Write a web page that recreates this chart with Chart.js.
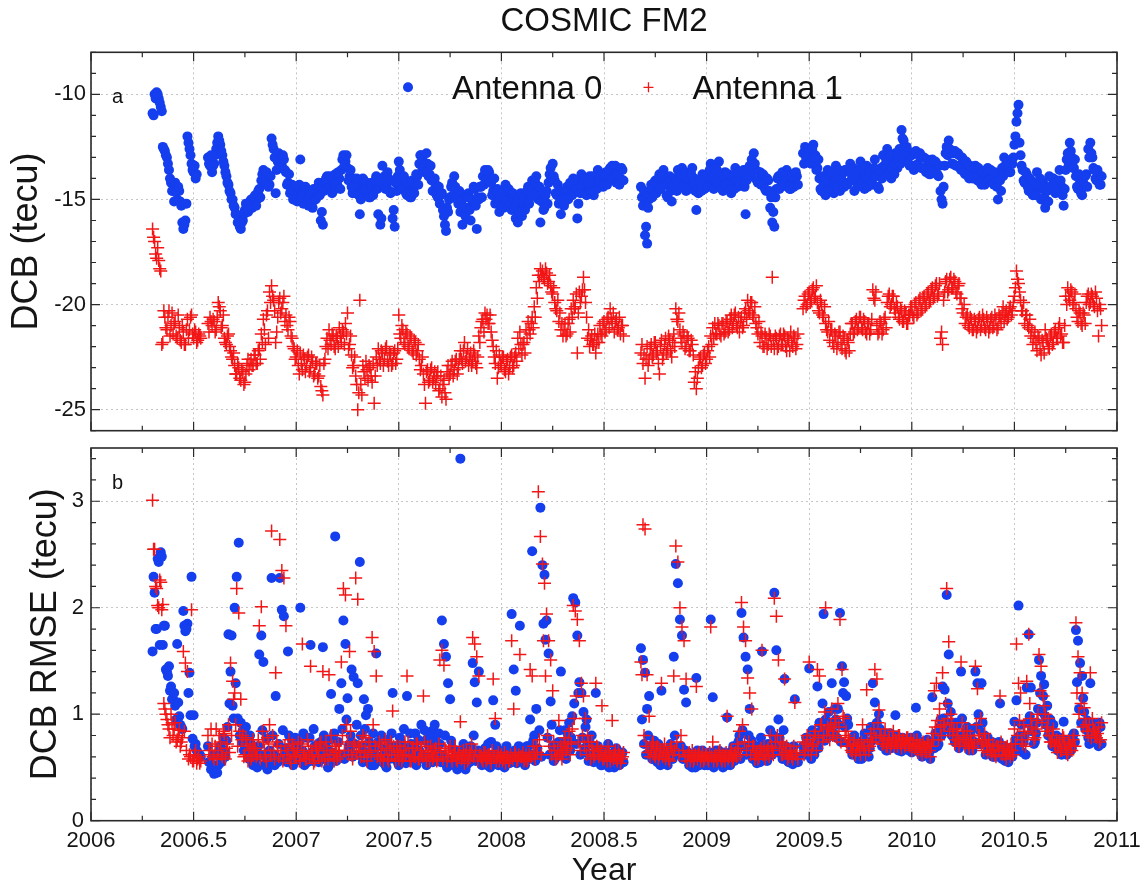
<!DOCTYPE html>
<html><head><meta charset="utf-8"><title>COSMIC FM2</title>
<script src="https://cdn.jsdelivr.net/npm/chart.js@4.4.1/dist/chart.umd.min.js"></script>
<style>
html,body{margin:0;padding:0;background:#fff;overflow:hidden;}
#wrap{position:relative;width:1146px;height:890px;background:#fff;}
canvas{position:absolute;left:0;}
#topChart{top:0;}
#botChart{top:440px;}
</style></head><body>
<div id="wrap"><canvas id="topChart" width="1146" height="440"></canvas><canvas id="botChart" width="1146" height="450"></canvas></div>
<script>
// ---- data: one value per 0.01 year starting 2006.30 (null = no data);
// the "...B" arrays hold a second reading of each band, half a step later ----
const yearStart = 2006.30;
const yearStep = 0.01;
const chartTitle = 'COSMIC FM2';
const seriesNames = ['Antenna 0', 'Antenna 1'];
const xTickLabels = ['2006','2006.5','2007','2007.5','2008','2008.5','2009','2009.5','2010','2010.5','2011'];
const dcbTickLabels = ['-25','-20','-15','-10'];
const rmseTickLabels = ['0','1','2','3'];

const dcb0 = [
-10.9,-10.0,-9.9,-10.2,-10.6,-12.5,-12.7,-13.0,-13.6,-14.2,
-14.6,-14.2,-15.0,-14.6,-15.3,-16.4,-16.0,-12.0,-12.6,-13.3,
-13.7,-14.0,null,null,null,null,null,-13.0,-13.4,-13.7,
-13.3,-12.6,-12.0,-12.4,-12.9,-13.4,-13.9,-14.3,-14.7,-15.0,
-15.4,-15.7,-16.0,-16.4,-16.0,-15.5,-15.2,-15.5,-15.0,-15.3,
-14.8,-15.0,-14.5,-14.1,-13.6,-14.0,-13.8,-14.3,-12.1,-12.6,
-14.7,-13.2,-12.9,-13.4,-13.1,-13.7,-14.2,-14.7,-14.3,-15.0,
-14.5,-14.9,-13.1,-14.4,-15.0,-14.6,-15.3,-14.8,-15.4,-14.6,
-14.9,-14.2,-16.0,-16.2,-14.3,-13.9,-14.5,-14.1,-14.6,-13.8,
-14.3,-14.0,-13.6,-12.9,-13.2,-13.5,-13.9,-14.4,-14.0,-14.7,
-14.3,-15.7,-14.5,-14.1,-14.8,-14.4,-14.9,-14.2,-14.6,-13.9,
-15.7,-16.2,-13.4,-13.9,-14.3,-14.0,-14.7,-15.9,-16.3,-14.6,
-13.2,-14.0,-14.4,-14.1,-14.8,-14.3,-14.9,-14.5,-14.2,-13.9,
-13.3,-12.9,-13.2,-13.6,-13.3,-13.8,-14.1,-14.6,-14.3,-14.9,
-15.2,-14.7,-15.8,-16.5,-15.6,-14.9,-14.2,-13.9,-14.6,-15.2,
-15.6,-16.2,-14.8,-15.4,-14.7,-16.0,-15.1,-14.5,-16.4,-15.0,
-14.4,-13.9,-13.6,-14.0,-13.7,-14.2,-14.6,-15.2,-14.5,-15.6,
-14.9,-15.4,-14.3,-15.0,-14.6,-15.5,-14.8,-15.9,-16.1,-15.2,
-15.8,-14.9,-15.3,-14.4,-14.9,-14.1,-14.6,-13.9,-15.0,-16.1,
-14.9,-15.4,-14.6,-14.2,-13.5,-13.3,-14.1,-14.8,-15.2,-15.7,
-14.7,-15.1,-14.4,-14.9,-14.3,-14.0,-14.6,-15.9,-14.2,-13.8,
-14.5,-14.1,-14.7,-13.9,-14.4,-14.8,-14.0,-13.6,-14.2,-13.8,
-14.3,-13.7,-14.1,-13.5,-13.4,-13.9,-14.2,-13.7,-14.0,-13.6,
null,null,null,null,null,null,null,null,-14.4,-15.3,
-16.7,-17.1,-15.0,-14.3,-14.8,-14.1,-14.6,-13.8,-14.4,-13.6,
-14.2,-14.9,-13.9,-15.1,-14.5,-14.0,-13.6,-14.3,-13.5,-14.1,
-14.6,-13.9,-14.4,-13.5,-14.0,-15.5,-14.7,-14.2,-13.8,-14.5,
-13.9,-14.3,-13.3,-13.8,-14.4,-13.6,-13.2,-14.0,-14.6,-13.7,
-14.3,-13.9,-14.7,-14.1,-13.5,-14.4,-13.8,-14.2,-13.6,-15.7,
-14.0,-13.4,-13.1,-12.8,-13.6,-14.2,-13.7,-14.3,-13.9,-14.6,
-14.1,-15.4,-16.1,-16.3,-14.5,-13.9,-14.4,-13.7,-14.2,-13.6,
-14.0,-14.5,-13.8,-14.2,-13.9,null,null,-12.8,-12.5,-13.1,
-12.7,-13.3,-12.4,-12.9,-13.5,-14.0,-14.6,-14.2,-14.8,-13.6,
-14.3,-13.9,-14.7,-13.4,-14.1,-14.6,-13.8,-14.4,-13.6,-14.2,
-13.3,-14.0,-14.6,-13.7,-14.3,-13.2,-13.9,-14.5,-13.4,-14.1,
-13.6,-14.3,-13.1,-13.8,-14.5,-13.5,-12.9,-13.6,-12.6,-13.3,
-14.0,-13.2,-12.8,-13.5,-12.6,-11.7,-12.2,-13.0,-12.7,-13.4,
-12.9,-13.6,-12.7,-13.3,-12.8,-13.5,-13.0,-13.7,-13.2,-13.8,
-13.1,-13.6,-13.3,-13.9,-14.6,-15.2,-13.4,-12.5,-12.2,-12.8,
-13.3,-12.7,-13.4,-12.9,-13.6,-13.1,-13.8,-13.3,-14.0,-13.5,
-13.9,-13.4,-14.1,-13.6,-14.3,-13.8,-14.2,-13.5,-14.0,-13.7,
-14.3,-13.8,-15.0,-14.1,-13.5,-13.0,-13.6,-13.2,-13.7,-13.3,
-12.4,-11.3,-10.5,-12.9,-13.6,-14.2,-13.8,-14.6,-14.1,-14.8,
-14.3,-13.7,-14.5,-15.0,-14.2,-15.4,-14.6,-13.9,-14.5,-14.0,
-14.7,-14.1,-13.6,-14.4,-15.3,-13.6,-12.8,-12.3,-13.0,-13.5,
-13.9,-14.5,-14.1,-14.8,-14.3,-13.8,-12.6,-12.3,-13.0,-13.6,
-14.1,-13.8,-14.3
];
const dcb0B = [
-11.0,-10.2,-10.0,-10.4,-10.8,-12.6,-12.9,-13.3,-14.0,-14.6,
-15.1,-14.6,-14.4,-15.1,-16.1,-16.2,-15.2,-12.3,-12.9,-13.6,
-13.4,-13.8,null,null,null,null,null,-13.3,-12.9,-13.4,
-12.9,-12.3,-12.2,-12.7,-13.2,-13.7,-14.2,-14.6,-15.0,-15.3,
-15.7,-16.1,-16.3,-16.1,-15.7,-15.2,-15.6,-15.1,-15.4,-14.9,
-15.3,-14.6,-14.9,-13.8,-14.2,-13.7,-14.4,-13.9,-12.4,-13.0,
-13.6,-12.8,-13.5,-12.9,-13.6,-14.3,-13.8,-14.5,-15.0,-14.4,
-15.1,-14.3,-14.8,-15.2,-14.4,-15.0,-14.6,-15.2,-14.5,-15.0,
-14.5,-14.8,-15.6,-14.6,-14.0,-14.5,-13.9,-14.7,-14.2,-14.4,
-13.7,-14.5,-13.1,-13.4,-12.9,-14.1,-13.6,-14.7,-14.3,-14.0,
-14.8,-15.0,-14.0,-14.6,-14.2,-14.9,-14.4,-14.8,-14.1,-14.5,
-14.2,-15.9,-14.0,-14.5,-13.7,-14.6,-14.1,-15.5,-14.2,-13.9,
-13.6,-14.5,-13.9,-14.7,-14.2,-14.9,-14.1,-14.7,-13.8,-14.3,
-12.9,-13.5,-13.7,-12.8,-13.9,-13.4,-14.6,-14.0,-14.8,-14.4,
-14.8,-15.5,-16.2,-15.4,-15.0,-14.4,-14.8,-14.4,-15.0,-14.6,
-15.1,-15.4,-15.8,-14.9,-15.5,-15.0,-14.4,-15.3,-14.9,-14.4,
-14.9,-14.3,-14.1,-13.6,-14.2,-14.8,-14.0,-14.6,-15.1,-14.8,
-15.3,-14.6,-15.1,-14.5,-15.2,-14.7,-15.4,-15.1,-15.6,-14.7,
-15.1,-15.5,-14.6,-15.2,-14.5,-14.8,-14.2,-14.7,-14.4,-15.1,
-15.5,-14.8,-15.2,-13.8,-14.0,-13.9,-14.7,-14.3,-14.6,-15.0,
-15.3,-14.6,-15.0,-14.2,-14.8,-14.6,-14.1,-15.2,-14.7,-14.3,
-14.0,-14.8,-14.2,-14.6,-13.9,-14.2,-14.5,-14.1,-13.8,-14.4,
-13.8,-14.3,-13.6,-14.0,-13.9,-13.4,-13.8,-14.3,-13.5,-14.1,
null,null,null,null,null,null,null,null,-14.9,-14.6,
-16.3,-15.4,-14.6,-14.9,-14.2,-14.7,-14.0,-14.5,-13.9,-14.3,
-14.8,-14.2,-14.6,-14.3,-14.0,-14.6,-14.2,-13.8,-14.4,-13.7,
-14.0,-14.5,-13.8,-14.2,-14.6,-14.3,-14.1,-14.6,-14.3,-13.9,
-14.4,-13.6,-14.0,-14.5,-13.5,-14.2,-13.8,-14.5,-13.9,-14.3,
-13.8,-14.5,-13.9,-14.5,-14.1,-13.7,-14.3,-13.7,-14.4,-14.1,
-13.5,-13.9,-13.6,-13.3,-14.1,-13.7,-14.3,-13.8,-14.5,-14.0,
-14.6,-14.9,-15.6,-14.9,-14.0,-14.5,-13.8,-14.3,-13.9,-14.4,
-14.5,-13.9,-14.4,-13.7,-14.3,null,null,-13.3,-13.0,-12.6,
-13.2,-12.6,-13.0,-13.6,-13.1,-14.5,-13.9,-14.7,-14.0,-14.5,
-13.7,-14.5,-14.0,-14.4,-13.6,-14.0,-14.4,-13.6,-14.3,-13.7,
-14.1,-13.5,-13.9,-14.4,-13.6,-14.2,-13.5,-13.9,-14.4,-13.7,
-14.2,-13.5,-13.9,-14.4,-13.7,-14.0,-13.4,-13.1,-13.8,-12.9,
-13.5,-13.8,-13.3,-12.9,-13.3,-12.1,-12.8,-12.5,-13.3,-12.9,
-13.4,-12.8,-13.4,-12.9,-13.5,-13.0,-13.6,-13.1,-13.8,-13.3,
-13.7,-13.2,-13.8,-13.4,-15.0,-14.4,-12.8,-12.9,-12.6,-13.3,
-12.8,-13.4,-12.8,-13.5,-13.0,-13.7,-13.2,-13.9,-13.4,-14.0,
-13.5,-14.0,-13.5,-14.2,-13.7,-14.3,-13.6,-14.1,-13.6,-14.2,
-13.7,-14.4,-14.0,-14.6,-13.9,-13.4,-13.2,-13.7,-13.1,-13.0,
-12.0,-10.9,-12.3,-13.4,-14.1,-13.7,-14.4,-14.0,-14.7,-14.2,
-14.8,-14.2,-14.0,-14.4,-14.9,-14.6,-15.1,-14.4,-14.0,-14.6,
-14.2,-14.6,-14.1,-14.8,-14.5,-13.1,-13.3,-12.7,-13.5,-13.1,
-14.4,-13.8,-14.7,-14.2,-13.9,-14.4,-13.0,-12.8,-13.5,-14.0,
-13.6,-14.3,-13.9
];

const dcb1 = [
-16.4,-17.0,-17.8,-17.9,-18.4,-21.8,-20.6,-21.2,-20.3,-21.0,
-21.4,-20.8,-21.6,-21.1,-21.8,-21.3,-21.9,-20.7,-21.2,-20.5,
-21.6,-21.3,-21.7,-21.5,null,null,null,-20.9,-20.6,-21.0,
-20.8,-21.2,-19.9,-20.3,-21.0,-21.6,-21.9,-21.4,-22.2,-22.6,
-22.9,-23.3,-23.0,-23.6,-23.2,-23.7,-22.9,-23.1,-22.6,-22.9,
-22.4,-22.8,-22.1,-21.4,-20.7,-21.9,-20.3,-19.4,-19.1,-19.8,
-21.8,-20.6,-19.7,-20.2,-19.6,-20.5,-21.2,-20.8,-21.6,-22.1,
-22.5,-22.9,-22.3,-23.1,-22.6,-22.9,-22.4,-23.0,-22.7,-23.3,
-22.8,-23.4,-23.9,-24.3,-22.6,-21.6,-21.2,-21.9,-21.5,-22.1,
-21.6,-21.1,-21.8,-21.3,-20.9,-20.4,-21.9,-22.4,-22.9,-23.4,
-25.0,-19.8,-24.3,-23.2,-22.7,-23.6,-23.0,-23.7,-24.7,-22.5,
-22.1,-22.8,-22.3,-22.6,-22.0,-22.9,-22.4,-22.8,-22.2,-22.6,
-20.5,-21.6,-21.2,-21.9,-21.4,-22.1,-21.6,-22.3,-21.8,-22.2,
-22.6,-22.9,-23.3,-24.7,-23.1,-23.6,-23.0,-23.5,-23.8,-23.2,
-24.0,-24.4,-23.6,-24.5,-22.9,-23.3,-22.7,-23.1,-22.6,-23.0,
-22.2,-22.8,-21.8,-22.5,-22.9,-22.3,-22.7,-22.4,-23.0,-21.5,
-21.1,-20.7,-20.4,-20.5,-20.9,-21.3,-22.0,-22.8,-23.5,-22.4,
-22.9,-22.5,-23.2,-22.6,-23.0,-22.4,-22.9,-22.3,-21.6,-21.3,
-22.4,-21.8,-21.2,-20.8,-21.4,-20.6,-20.1,-19.2,-18.6,-18.3,
-18.4,-18.8,-18.5,-18.9,-19.1,-19.5,-19.9,-20.3,-20.8,-21.2,
-21.5,-20.9,-21.4,-20.7,-20.2,-19.8,-20.1,-22.3,-19.4,-19.6,
-18.7,-19.9,-21.6,-22.0,-21.5,-21.9,-22.3,-21.4,-21.0,-21.5,
-20.8,-21.2,-20.6,-20.2,-20.9,-21.3,-20.7,-21.1,-21.4,-21.0,
null,null,null,null,null,null,null,null,-22.3,-22.8,
-23.5,-22.0,-22.6,-21.9,-22.4,-21.8,-22.2,-23.3,-21.7,-22.4,
-21.6,-22.1,-21.7,-22.5,-21.4,-20.2,-20.8,-21.2,-21.8,-21.5,
-22.0,-21.6,-22.2,-21.9,-23.7,-24.0,-23.0,-22.5,-22.9,-22.3,
-22.6,-22.0,-21.5,-21.1,-20.9,-21.4,-21.0,-21.5,-20.9,-21.3,
-20.8,-21.2,-20.5,-20.9,-20.4,-21.1,-21.3,-20.6,-21.0,-20.2,
-19.8,-20.4,-19.9,-20.6,-20.9,-21.4,-21.8,-21.5,-22.0,-21.6,
-21.9,-21.5,-18.7,-22.1,-21.6,-22.0,-21.4,-21.9,-21.5,-22.2,
-21.7,-21.3,-22.0,-21.6,-21.9,null,null,-20.2,-19.6,-20.0,
-19.4,-19.8,-19.2,-19.6,-19.9,-20.4,-20.0,-20.6,-20.9,-21.3,
-21.7,-21.2,-22.0,-21.5,-21.8,-21.3,-22.1,-21.6,-22.3,-21.8,
-21.4,-20.9,-21.3,-20.7,-21.1,-20.6,-21.2,-20.8,-21.4,-20.9,
-21.2,-19.3,-19.8,-21.0,-21.3,-20.9,-21.2,-20.6,-19.9,-19.5,
-20.0,-19.6,-20.4,-20.1,-20.7,-20.3,-20.8,-20.4,-20.9,-20.5,
-20.1,-20.6,-19.9,-20.4,-19.7,-20.2,-19.6,-20.0,-19.4,-19.8,
-19.2,-19.6,-19.0,-19.5,-21.6,-21.9,-19.4,-18.8,-19.3,-18.7,
-19.2,-18.9,-19.5,-19.0,-19.7,-20.4,-20.9,-20.5,-21.1,-20.7,
-21.2,-20.8,-21.1,-20.6,-21.0,-20.7,-21.2,-20.8,-21.1,-20.6,
-21.0,-20.7,-21.1,-20.6,-20.4,-20.8,-20.3,-20.6,-20.1,-20.3,
-19.6,-18.4,-19.0,-19.8,-20.3,-20.9,-20.5,-21.1,-21.5,-21.9,
-21.3,-22.2,-21.6,-22.4,-21.8,-21.2,-21.7,-22.1,-21.4,-21.8,
-21.2,-21.6,-20.9,-21.4,-21.8,-19.6,-19.2,-19.8,-19.4,-19.9,
-20.2,-20.8,-20.4,-21.0,-20.5,-19.9,-19.5,-19.9,-19.6,-20.1,
-19.7,-21.5,-20.2
];
const dcb1B = [
-16.8,-17.6,-17.3,-18.3,-21.9,-20.3,-21.1,-20.6,-21.5,-20.4,
-20.9,-21.5,-20.5,-21.7,-21.0,-21.9,-21.2,-21.6,-20.6,-21.4,
-21.2,-21.8,-21.4,-21.6,null,null,null,-21.3,-20.8,-20.7,
-21.3,-20.6,-20.1,-21.1,-20.5,-21.8,-21.5,-22.0,-22.5,-22.3,
-23.3,-22.8,-23.5,-23.1,-23.8,-23.3,-22.6,-22.8,-22.9,-22.4,
-22.8,-22.2,-22.6,-21.8,-21.2,-20.5,-21.6,-19.9,-19.6,-20.3,
-21.3,-19.9,-20.4,-19.9,-20.8,-21.0,-20.6,-21.5,-22.0,-22.6,
-22.2,-23.3,-22.8,-22.4,-23.2,-22.5,-23.2,-22.5,-23.4,-22.8,
-23.5,-22.9,-24.1,-22.8,-22.0,-22.1,-21.7,-21.4,-22.0,-21.5,
-22.0,-21.5,-21.2,-21.9,-21.4,-22.1,-21.5,-23.0,-22.5,-23.8,
-24.2,-23.8,-22.9,-23.5,-23.1,-22.9,-23.4,-22.8,-23.4,-22.9,
-22.6,-22.2,-22.9,-22.1,-22.7,-22.3,-22.9,-22.3,-22.8,-22.1,
-21.4,-21.0,-21.8,-21.3,-22.0,-21.5,-22.2,-21.7,-22.4,-21.9,
-23.1,-22.5,-23.8,-23.2,-23.7,-23.1,-23.7,-23.2,-23.4,-24.1,
-23.4,-23.8,-24.2,-23.2,-23.5,-22.9,-23.4,-22.7,-23.3,-22.6,
-22.6,-22.2,-22.7,-22.1,-22.6,-22.9,-22.2,-22.8,-22.5,-21.8,
-20.8,-21.3,-20.7,-20.9,-20.5,-21.7,-22.5,-22.2,-23.0,-22.8,
-22.5,-23.1,-22.7,-23.3,-22.5,-23.0,-22.5,-22.7,-22.1,-21.9,
-21.9,-22.3,-21.6,-21.2,-20.9,-21.1,-20.6,-19.7,-18.9,-18.6,
-18.7,-18.3,-19.0,-18.6,-19.4,-19.2,-20.2,-19.8,-20.4,-20.9,
-21.2,-21.5,-20.9,-21.3,-20.6,-20.2,-19.5,-20.4,-19.9,-19.3,
-19.3,-20.6,-21.2,-21.7,-21.9,-21.4,-21.8,-21.8,-21.4,-20.9,
-21.3,-20.7,-21.1,-20.7,-20.4,-20.8,-21.2,-20.6,-21.0,-21.5,
null,null,null,null,null,null,null,null,-21.9,-22.4,
-22.6,-22.9,-22.1,-22.5,-21.8,-22.3,-22.8,-22.0,-22.6,-21.9,
-22.3,-21.5,-22.2,-21.8,-22.0,-20.7,-20.4,-21.6,-21.3,-22.1,
-21.5,-22.2,-21.7,-22.4,-23.2,-23.5,-22.6,-23.0,-22.4,-22.8,
-22.2,-22.5,-21.9,-21.6,-21.4,-20.9,-21.4,-20.9,-21.4,-20.8,
-21.3,-20.7,-21.1,-20.5,-21.0,-20.6,-20.8,-21.1,-20.4,-20.7,
-20.3,-19.9,-20.5,-20.1,-21.1,-20.8,-21.3,-22.0,-21.4,-22.1,
-21.4,-22.0,-21.7,-21.5,-22.1,-21.5,-21.9,-21.4,-22.0,-21.6,
-22.2,-21.8,-21.5,-22.1,-21.4,null,null,-19.8,-20.1,-19.5,
-19.9,-19.3,-19.7,-19.1,-20.3,-19.8,-20.5,-20.1,-21.2,-20.8,
-21.2,-21.8,-21.4,-22.1,-21.3,-21.9,-21.5,-22.2,-21.7,-22.2,
-20.9,-21.4,-20.8,-21.2,-20.6,-21.1,-20.7,-21.3,-20.9,-21.4,
-20.7,-19.7,-19.4,-21.4,-20.8,-21.4,-20.7,-21.1,-19.6,-20.1,
-19.6,-20.2,-19.9,-20.6,-20.2,-20.8,-20.3,-20.9,-20.5,-20.1,
-20.5,-20.0,-20.5,-19.8,-20.3,-19.7,-20.1,-19.5,-19.9,-19.3,
-19.7,-19.1,-19.6,-19.0,-21.3,-19.8,-18.9,-19.4,-18.8,-19.2,
-18.8,-19.4,-19.1,-19.7,-20.2,-20.0,-20.6,-21.0,-20.6,-21.2,
-20.7,-21.3,-20.7,-21.2,-20.5,-21.1,-20.6,-21.3,-20.7,-21.1,
-20.5,-21.2,-20.5,-20.9,-20.1,-20.5,-20.7,-20.2,-20.5,-19.9,
-19.2,-18.8,-19.4,-20.3,-19.9,-20.5,-21.0,-20.7,-21.2,-21.6,
-21.8,-21.5,-22.1,-21.7,-22.3,-21.6,-22.0,-21.5,-21.9,-21.3,
-21.6,-21.1,-21.5,-21.8,-21.0,-20.0,-19.6,-19.3,-20.0,-19.5,
-20.6,-20.3,-20.9,-20.4,-20.9,-19.6,-20.0,-19.5,-20.0,-19.4,
-20.3,-20.0,-21.0
];

const rmse0 = [
1.59,2.14,1.80,2.43,2.52,1.65,1.83,1.40,1.45,1.26,
1.14,1.08,1.66,0.98,0.88,1.97,1.78,1.85,1.39,2.29,
0.99,0.72,0.64,0.62,null,null,null,0.70,0.55,0.48,
0.44,0.62,0.52,0.70,0.58,0.66,0.75,1.75,1.40,1.08,
2.00,2.29,2.61,0.92,0.85,0.78,0.66,0.58,0.72,0.52,
0.64,0.50,1.56,1.74,1.49,0.60,0.48,0.66,2.28,0.62,
1.17,0.55,2.28,1.98,1.92,0.68,1.59,0.56,0.75,0.62,
0.70,0.58,2.00,0.66,0.52,0.78,0.60,1.65,0.56,0.70,
0.62,0.55,0.74,1.63,0.58,0.68,0.52,1.19,0.64,2.67,
0.58,1.05,1.29,1.88,1.66,1.15,0.72,1.42,1.35,0.62,
1.29,2.43,0.70,1.14,0.99,1.05,0.58,0.66,0.52,1.57,
0.74,0.60,0.55,0.68,0.50,0.62,0.70,1.20,0.58,0.64,
0.52,0.74,0.60,0.68,1.17,0.56,0.72,0.62,0.82,0.57,
0.66,0.90,0.60,0.75,0.55,0.70,0.84,0.62,0.76,0.58,
0.72,1.88,1.66,1.54,1.29,1.14,0.68,0.55,0.62,0.50,
3.40,0.58,0.66,0.52,0.60,0.70,1.48,1.30,1.11,1.40,
0.62,0.55,0.68,0.52,0.60,0.74,1.13,0.90,0.58,0.64,
0.52,0.60,0.56,0.66,0.54,1.94,1.42,1.22,0.62,1.83,
0.58,0.55,0.64,0.70,0.95,2.53,0.80,1.05,0.62,2.94,
2.40,2.31,1.88,1.57,1.12,0.70,0.58,0.66,0.74,1.40,
0.62,0.85,0.70,0.92,0.78,2.09,2.05,1.74,1.30,1.20,
1.02,0.88,0.74,0.62,0.80,0.55,1.20,0.70,0.60,0.52,
0.66,0.58,0.72,0.55,0.62,0.50,0.68,0.60,0.56,0.64,
null,null,null,null,null,null,null,null,1.62,1.51,
1.39,1.05,1.17,0.70,0.58,0.66,0.55,0.62,1.22,0.58,
0.66,0.52,0.60,0.70,1.54,2.41,2.23,1.89,1.74,1.23,
1.11,0.64,0.56,0.50,0.62,1.34,0.58,0.54,0.66,0.52,
0.60,0.56,1.89,1.16,0.62,0.54,0.66,0.58,0.50,0.64,
0.97,0.56,0.62,0.70,0.58,0.66,0.80,1.95,1.72,1.54,
1.42,1.05,0.75,0.62,0.58,0.70,0.55,1.59,0.66,0.60,
0.72,0.85,0.62,2.14,1.60,0.95,0.70,0.58,1.33,0.62,
0.55,0.62,0.53,1.14,0.60,null,null,0.70,0.62,0.75,
1.43,0.58,0.68,0.80,1.26,0.92,0.85,1.94,0.95,0.78,
0.88,1.29,0.82,0.95,1.05,1.95,1.45,1.30,1.17,0.90,
0.72,0.62,0.80,0.68,0.58,0.74,0.65,0.82,0.70,0.60,
0.88,1.29,1.11,0.92,1.00,0.78,0.70,0.82,0.66,0.75,
0.68,0.80,0.99,0.72,0.78,0.65,0.74,0.68,0.76,0.70,
0.64,0.78,1.06,0.72,0.66,0.60,0.74,0.62,0.70,0.58,
1.16,0.68,0.80,0.72,0.95,1.26,1.23,2.12,1.56,1.02,
0.85,0.74,0.90,0.68,1.40,0.80,0.72,0.88,0.66,0.76,
0.70,1.40,1.29,0.85,1.29,0.72,0.62,0.78,0.66,0.74,
0.60,0.72,0.66,1.10,0.58,0.70,0.62,0.55,0.68,0.60,
0.93,1.13,2.02,0.72,0.64,0.80,1.25,1.75,1.25,0.86,
0.74,0.92,1.51,1.36,1.17,0.98,1.08,0.84,0.78,0.90,
0.72,0.66,0.78,0.62,0.93,0.70,0.64,0.76,0.68,0.82,
1.79,1.69,1.48,1.36,1.02,0.86,0.78,1.29,0.92,0.74,
0.84,0.70,0.88
];
const rmse0B = [
2.29,1.80,2.46,1.65,2.48,1.83,1.42,1.36,1.22,1.14,
1.20,0.95,1.11,0.90,0.86,1.83,1.80,1.20,0.99,0.77,
0.70,0.66,0.62,0.60,null,null,null,0.55,0.48,0.62,
0.52,0.45,0.66,0.55,0.78,0.60,0.88,1.10,1.74,0.96,
1.29,0.96,0.80,0.74,0.66,0.88,0.60,0.80,0.56,0.66,
0.58,0.70,0.62,0.85,0.52,0.77,0.62,0.56,0.80,0.52,
0.60,0.72,0.58,0.85,0.62,0.55,0.80,0.66,0.52,0.78,
0.60,0.74,0.56,0.82,0.62,0.55,0.78,0.64,0.86,0.58,
0.72,0.66,0.58,0.80,0.62,0.50,0.76,0.60,0.82,0.56,
0.74,0.62,0.86,0.58,0.95,0.66,0.80,0.60,0.72,0.90,
0.62,0.80,0.55,0.86,0.64,0.74,0.52,0.82,0.60,0.70,
0.56,0.80,0.62,0.52,0.76,0.58,0.82,0.60,0.70,0.55,
0.78,0.60,0.86,0.54,0.66,0.82,0.58,0.70,0.52,0.76,
0.58,0.62,0.85,0.52,0.80,0.60,0.55,0.90,0.64,0.82,
0.55,0.62,0.80,0.50,0.58,0.75,0.52,0.66,0.48,0.60,
0.52,0.72,0.48,0.64,0.55,0.62,0.80,0.56,0.66,0.58,
0.52,0.66,0.58,0.72,0.50,0.62,0.56,0.70,0.52,0.66,
0.60,0.50,0.70,0.55,0.62,0.58,0.66,0.54,0.70,0.56,
0.64,0.52,0.70,0.58,0.62,0.75,0.56,0.68,0.85,0.60,
1.85,1.70,0.78,0.62,0.90,0.56,0.72,0.62,0.85,0.66,
0.74,0.58,0.80,0.66,0.98,1.10,0.72,1.20,0.62,0.78,
0.68,0.95,0.56,0.72,0.62,0.70,0.58,0.64,0.52,0.60,
0.56,0.64,0.50,0.62,0.54,0.66,0.58,0.52,0.62,0.55,
null,null,null,null,null,null,null,null,0.95,0.72,
0.62,0.80,0.66,0.58,0.75,0.60,0.72,0.52,0.66,0.62,
0.56,0.62,0.72,0.58,0.80,0.66,0.62,0.70,0.58,0.66,
0.58,0.52,0.62,0.56,0.50,0.66,0.52,0.62,0.56,0.60,
0.52,0.64,0.58,0.50,0.66,0.60,0.54,0.62,0.56,0.52,
0.60,0.52,0.66,0.56,0.62,0.74,0.58,0.85,0.70,0.62,
0.80,0.66,0.58,0.70,0.54,0.64,0.78,0.60,0.70,0.56,
0.64,0.62,0.80,0.72,0.66,0.78,0.62,0.85,0.70,0.56,
0.64,0.58,0.70,0.60,0.55,null,null,0.66,0.78,0.62,
0.70,0.85,0.62,0.74,0.68,0.80,1.10,0.75,0.85,1.02,
0.80,0.92,1.05,0.78,0.90,0.74,1.20,0.88,0.96,0.72,
0.66,0.74,0.62,0.70,0.64,0.58,0.76,0.66,0.72,0.68,
0.75,0.82,0.90,0.78,0.86,0.70,0.78,0.66,0.74,0.82,
0.76,0.70,0.80,0.66,0.72,0.78,0.70,0.75,0.66,0.78,
0.72,0.66,0.80,0.70,0.62,0.74,0.66,0.76,0.64,0.72,
0.74,0.82,0.70,0.88,0.80,0.96,0.86,1.10,0.92,0.80,
0.78,0.92,0.72,0.80,0.96,0.74,0.86,0.70,0.82,0.66,
0.74,0.88,1.00,0.72,0.92,0.80,0.70,0.64,0.74,0.60,
0.68,0.60,0.74,0.64,0.70,0.56,0.66,0.60,0.62,0.70,
0.76,0.66,0.80,0.90,0.74,0.62,0.92,0.98,0.84,0.72,
0.82,1.05,1.20,1.02,1.28,0.90,0.80,0.95,0.70,0.76,
0.80,0.74,0.64,0.70,0.76,0.62,0.72,0.66,0.80,0.74,
1.30,1.05,0.92,1.15,0.86,0.94,0.72,0.84,0.78,0.90,
0.76,0.92,0.72
];

const rmse1 = [
3.01,2.55,2.18,2.00,2.24,2.03,1.05,0.95,0.86,1.00,
0.80,0.92,0.76,0.85,0.74,1.59,1.48,1.40,0.62,1.98,
0.56,0.66,0.58,0.54,null,null,null,0.80,0.62,0.72,
0.58,0.86,0.66,0.74,0.60,0.82,0.68,0.90,1.48,1.31,
1.20,2.18,1.95,1.14,0.80,0.62,0.72,0.66,0.58,0.76,
0.68,0.62,1.83,2.01,0.74,0.60,0.78,0.90,2.72,0.66,
1.39,0.70,2.64,2.35,2.28,1.83,0.62,0.58,0.72,0.66,
0.60,0.74,0.56,1.66,0.64,0.58,0.70,1.45,0.62,0.56,
0.68,0.60,0.74,1.40,0.58,0.66,1.37,0.80,0.62,0.70,
0.58,0.66,1.49,2.18,2.12,0.74,1.59,0.62,0.70,2.28,
2.08,0.66,0.74,0.60,0.78,0.64,0.70,1.72,1.59,1.36,
0.66,0.58,0.72,0.62,0.68,0.56,0.74,1.03,0.62,0.70,
0.58,0.66,0.60,0.74,1.36,0.62,0.56,0.68,0.60,0.72,
0.58,0.66,1.17,0.62,0.70,0.56,0.64,0.60,0.68,0.58,
1.51,1.60,1.46,0.66,0.60,0.70,0.56,0.64,0.58,0.62,
0.93,0.60,0.54,0.66,0.58,0.62,1.72,1.66,1.54,1.36,
0.60,0.56,0.64,0.58,0.62,0.54,1.33,0.96,0.60,0.56,
0.62,0.58,0.54,0.60,0.56,1.69,1.05,0.62,0.58,1.56,
0.60,0.56,0.62,0.58,1.42,1.36,0.64,0.70,3.09,2.67,
2.41,2.23,1.94,1.69,1.51,1.22,0.66,0.60,0.94,0.70,
0.64,0.78,0.68,0.84,0.72,2.02,1.97,1.89,1.69,1.29,
1.17,0.96,0.80,0.66,0.74,0.60,1.29,0.68,0.62,1.08,
0.58,0.64,0.70,0.56,0.94,0.62,0.58,0.66,0.54,0.60,
null,null,null,null,null,null,null,null,1.49,2.78,
2.74,1.37,0.98,0.66,0.74,0.60,0.70,0.62,1.29,0.66,
0.58,0.64,0.56,0.68,1.36,2.58,2.43,2.00,1.82,1.69,
1.33,0.62,0.56,0.66,0.58,1.26,0.62,0.56,0.64,0.58,
0.62,0.56,1.82,0.74,0.60,0.56,0.64,0.58,0.62,0.56,
0.98,0.60,0.66,0.58,0.64,0.72,0.84,2.05,1.82,1.69,
1.34,1.20,1.05,0.70,0.62,0.58,0.66,1.60,0.70,0.62,
0.68,0.80,0.66,2.09,1.92,1.51,0.74,0.62,1.33,0.70,
0.60,0.66,0.58,1.11,0.64,null,null,0.74,0.66,0.80,
1.49,0.62,0.72,0.84,1.42,1.36,0.90,0.80,2.00,0.88,
0.76,1.05,0.84,0.92,1.10,1.89,1.42,0.96,0.84,0.78,
0.70,0.64,0.76,0.66,0.72,0.62,0.90,0.70,1.23,0.66,
0.82,0.74,1.42,1.33,1.04,0.80,0.72,0.86,0.70,0.78,
0.72,0.84,0.76,0.70,0.80,0.68,0.76,0.72,0.78,0.70,
0.66,0.76,0.70,0.64,0.72,0.62,0.70,0.64,0.74,0.60,
0.82,1.22,1.29,0.76,0.88,1.39,0.90,2.18,1.68,1.00,
0.80,0.72,0.86,0.70,1.49,0.78,0.70,0.84,0.68,0.74,
0.68,1.45,1.24,0.80,0.72,0.66,0.76,0.64,0.70,0.62,
0.66,0.60,0.70,1.17,0.62,0.68,0.58,0.64,0.60,0.66,
0.86,1.66,1.29,1.20,0.72,0.84,1.31,1.75,0.96,0.82,
0.78,0.94,1.56,1.45,1.17,1.00,0.88,0.80,0.74,0.86,
0.70,0.64,0.74,0.66,0.78,0.68,0.62,0.72,0.66,0.80,
1.86,1.54,1.39,1.20,1.06,0.90,0.80,1.39,0.96,0.84,
0.78,0.88,0.76
];
const rmse1B = [
2.55,2.20,2.02,2.26,1.98,1.10,1.00,0.90,0.78,0.92,
0.86,0.74,0.80,0.70,0.78,0.84,0.66,0.58,0.60,0.56,
0.62,0.54,0.60,0.56,null,null,null,0.66,0.86,0.60,
0.70,0.58,0.80,0.62,0.84,0.58,0.72,0.64,0.80,1.14,
0.90,0.70,0.84,0.76,0.60,0.78,0.56,0.70,0.62,0.68,
0.60,0.76,0.58,0.84,0.66,0.56,0.72,0.62,0.80,0.58,
0.74,0.60,0.66,0.56,0.70,0.62,0.76,0.54,0.68,0.60,
0.66,0.56,0.72,0.62,0.58,0.76,0.60,0.66,0.54,0.70,
0.62,0.72,0.56,0.66,0.74,0.58,0.62,0.70,0.56,0.64,
0.72,0.60,0.80,0.66,0.90,0.62,0.84,0.58,0.72,0.64,
0.70,0.60,0.80,0.66,0.56,0.74,0.62,0.90,0.70,0.60,
0.74,0.62,0.56,0.76,0.58,0.66,0.62,0.70,0.56,0.64,
0.70,0.56,0.66,0.62,0.74,0.56,0.68,0.60,0.72,0.58,
0.66,0.60,0.74,0.56,0.64,0.70,0.58,0.66,0.56,0.72,
0.64,0.58,0.68,0.56,0.66,0.60,0.62,0.70,0.56,0.64,
0.58,0.66,0.62,0.56,0.64,0.72,0.60,0.66,0.56,0.62,
0.58,0.64,0.56,0.62,0.58,0.66,0.60,0.56,0.64,0.60,
0.56,0.64,0.60,0.56,0.62,0.58,0.64,0.56,0.62,0.60,
0.64,0.58,0.56,0.62,0.60,0.70,0.58,0.64,0.76,0.62,
1.69,1.36,0.80,0.70,0.62,0.74,0.58,0.66,0.62,0.58,
0.72,0.66,0.74,0.62,0.86,0.96,1.17,0.74,0.66,0.80,
0.70,0.62,0.74,0.58,0.66,0.62,0.70,0.60,0.66,0.58,
0.62,0.56,0.64,0.60,0.58,0.66,0.56,0.62,0.58,0.64,
null,null,null,null,null,null,null,null,1.37,0.80,
0.70,0.64,0.60,0.72,0.62,0.68,0.58,0.66,0.60,0.72,
0.64,0.58,0.70,0.62,0.66,0.74,0.62,0.80,0.66,0.60,
0.56,0.64,0.60,0.56,0.62,0.58,0.64,0.60,0.56,0.62,
0.58,0.64,0.60,0.56,0.62,0.58,0.66,0.56,0.60,0.64,
0.58,0.64,0.56,0.62,0.60,0.68,0.62,0.90,0.74,0.66,
0.74,0.62,0.70,0.58,0.64,0.60,0.68,0.62,0.58,0.66,
0.60,0.70,0.62,0.74,0.80,0.68,0.62,0.72,0.64,0.58,
0.66,0.60,0.70,0.62,0.58,null,null,0.62,0.72,0.66,
0.76,0.70,0.80,0.66,0.78,0.90,0.74,1.02,0.80,0.86,
0.90,0.80,0.96,0.78,0.88,0.74,0.98,0.80,0.70,0.76,
0.66,0.72,0.62,0.70,0.66,0.74,0.68,0.62,0.76,0.70,
0.74,0.86,0.78,0.92,0.80,0.72,0.78,0.70,0.76,0.68,
0.78,0.70,0.74,0.80,0.72,0.76,0.70,0.78,0.72,0.76,
0.72,0.68,0.76,0.70,0.66,0.74,0.68,0.72,0.66,0.70,
0.76,0.88,0.94,1.05,0.80,0.90,1.10,0.96,0.84,0.92,
0.86,0.76,0.80,0.74,0.92,0.84,0.76,0.72,0.80,0.70,
0.76,0.90,0.80,0.96,0.74,0.82,0.70,0.76,0.66,0.72,
0.62,0.70,0.66,0.74,0.66,0.62,0.70,0.66,0.72,0.62,
0.72,0.80,0.94,0.76,0.90,0.70,0.82,1.10,0.88,0.76,
0.86,1.00,1.22,0.92,1.08,0.84,0.96,0.74,0.80,0.72,
0.76,0.70,0.66,0.80,0.72,0.64,0.74,0.70,0.76,0.70,
1.20,1.00,1.10,0.88,0.96,0.84,0.90,0.78,0.86,0.80,
0.82,0.74,0.92
];

// ---- rendering ----
const FONT = '"Liberation Sans", Arial, Helvetica, sans-serif';
Chart.defaults.font.family = FONT;
Chart.defaults.color = '#151515';
const BLUE = 'rgb(20,62,238)';
const RED = 'rgb(242,22,22)';

function toPoints(values, offset) {
  const out = [];
  values.forEach((v, i) => {
    if (v !== null) out.push({ x: Math.round((yearStart + offset + i * yearStep) * 1000) / 1000, y: v });
  });
  return out;
}
function bothReadings(a, b) { return toPoints(a, 0).concat(toPoints(b, yearStep / 2)); }
function labelFrom(list) {
  return (v) => { const m = list.find(l => Math.abs(Number(l) - v) < 1e-6); return m === undefined ? '' : m; };
}

const frameTicks = {
  id: 'frameTicks',
  afterDatasetsDraw(chart, args, o) {
    const { ctx, chartArea: a } = chart;
    const xs = chart.scales.x, ys = chart.scales.y;
    const marks = (min, max, minor, major) => {
      const out = [];
      const k0 = Math.ceil(min / minor - 1e-6), k1 = Math.floor(max / minor + 1e-6);
      for (let k = k0; k <= k1; k++) {
        const v = k * minor, r = v / major;
        out.push({ v, major: Math.abs(r - Math.round(r)) < 1e-6 });
      }
      return out;
    };
    ctx.save();
    ctx.strokeStyle = '#2a2a2a';
    ctx.lineWidth = 1.2;
    ctx.beginPath();
    marks(xs.min, xs.max, o.xMinor, o.xMajor).forEach(m => {
      const p = xs.getPixelForValue(m.v), L = m.major ? 9 : 5;
      ctx.moveTo(p, a.bottom); ctx.lineTo(p, a.bottom - L);
      ctx.moveTo(p, a.top); ctx.lineTo(p, a.top + L);
    });
    marks(ys.min, ys.max, o.yMinor, o.yMajor).forEach(m => {
      const p = ys.getPixelForValue(m.v), L = m.major ? 9 : 5;
      ctx.moveTo(a.left, p); ctx.lineTo(a.left + L, p);
      ctx.moveTo(a.right, p); ctx.lineTo(a.right - L, p);
    });
    ctx.stroke();
    ctx.lineWidth = 1.6;
    ctx.strokeRect(a.left, a.top, a.right - a.left, a.bottom - a.top);
    ctx.fillStyle = '#111';
    ctx.font = '20px ' + FONT;
    ctx.textBaseline = 'alphabetic';
    ctx.textAlign = 'left';
    ctx.fillText(o.label, a.left + o.labelDx, a.top + o.labelDy);
    ctx.restore();
  }
};

const panelLegend = {
  id: 'panelLegend',
  afterDatasetsDraw(chart, args, o) {
    if (!o.show) return;
    const { ctx, chartArea: a } = chart;
    ctx.save();
    ctx.font = o.fontSize + 'px ' + FONT;
    ctx.textBaseline = 'middle';
    ctx.textAlign = 'left';
    let cx = a.left + o.startDx;
    chart.data.datasets.forEach(ds => {
      const my = a.top + o.markerDy;
      if (ds.pointStyle === 'cross') {
        ctx.strokeStyle = ds.borderColor; ctx.lineWidth = 1.3;
        ctx.beginPath();
        ctx.moveTo(cx - 5, my); ctx.lineTo(cx + 5, my);
        ctx.moveTo(cx, my - 5); ctx.lineTo(cx, my + 5);
        ctx.stroke();
      } else {
        ctx.fillStyle = ds.backgroundColor;
        ctx.beginPath(); ctx.arc(cx, my, 5, 0, Math.PI * 2); ctx.fill();
      }
      const tx = cx + o.textGap;
      ctx.fillStyle = '#111';
      ctx.fillText(ds.label, tx, a.top + o.textDy);
      cx = tx + ctx.measureText(ds.label).width + o.itemGap;
    });
    ctx.restore();
  }
};

function xScale(showLabels, height) {
  return {
    type: 'linear', min: 2006, max: 2011,
    ticks: { stepSize: 0.5, display: showLabels, autoSkip: false, maxRotation: 0, font: { size: 22 }, padding: 7, callback: labelFrom(xTickLabels) },
    grid: { color: '#c6c6c6', lineWidth: 1, drawTicks: false },
    border: { display: false, dash: [2, 3] },
    title: { display: showLabels, text: 'Year', font: { size: 32 }, padding: { top: 0, bottom: 0 } },
    afterFit: (s) => { s.height = height; s.paddingLeft = 0; s.paddingRight = 0; }
  };
}
function yScale(min, max, step, labels, title, titlePad, tickPad) {
  return {
    type: 'linear', min, max,
    ticks: { stepSize: step, includeBounds: false, font: { size: 22 }, padding: tickPad, callback: labelFrom(labels) },
    grid: { color: '#c6c6c6', lineWidth: 1, drawTicks: false },
    border: { display: false, dash: [2, 3] },
    title: { display: true, text: title, font: { size: 36 }, padding: { top: titlePad, bottom: 0 } },
    afterFit: (s) => { s.width = 91; s.paddingTop = 0; s.paddingBottom = 0; }
  };
}

new Chart(document.getElementById('topChart'), {
  type: 'scatter',
  data: {
    datasets: [
      { label: seriesNames[0], data: bothReadings(dcb0, dcb0B), pointStyle: 'circle', pointRadius: 5, backgroundColor: BLUE, borderColor: BLUE, borderWidth: 0, showLine: false },
      { label: seriesNames[1], data: bothReadings(dcb1, dcb1B), pointStyle: 'cross', pointRadius: 6.5, backgroundColor: RED, borderColor: RED, borderWidth: 1.5, showLine: false }
    ]
  },
  options: {
    responsive: false, animation: false, devicePixelRatio: 1, events: [],
    layout: { padding: { left: 0, right: 29, top: 0, bottom: 0 } },
    scales: {
      x: xScale(false, 9.3),
      y: yScale(-26, -8, 5, dcbTickLabels, 'DCB (tecu)', 5, 5)
    },
    plugins: {
      legend: { display: false },
      tooltip: { enabled: false },
      title: { display: true, text: chartTitle, fullSize: false, color: '#111', font: { size: 33, weight: 'normal' }, padding: { top: 2, bottom: 10.7 } },
      frameTicks: { xMinor: 0.25, xMajor: 0.5, yMinor: 1, yMajor: 5, label: 'a', labelDx: 21, labelDy: 51 },
      panelLegend: { show: true, fontSize: 33, startDx: 317, markerDy: 35, textDy: 38, textGap: 44, itemGap: 46 }
    }
  },
  plugins: [frameTicks, panelLegend]
});

new Chart(document.getElementById('botChart'), {
  type: 'scatter',
  data: {
    datasets: [
      { label: seriesNames[0], data: bothReadings(rmse0, rmse0B), order: 1, pointStyle: 'circle', pointRadius: 5, backgroundColor: BLUE, borderColor: BLUE, borderWidth: 0, showLine: false },
      { label: seriesNames[1], data: bothReadings(rmse1, rmse1B), order: 0, pointStyle: 'cross', pointRadius: 6.5, backgroundColor: RED, borderColor: RED, borderWidth: 1.5, showLine: false }
    ]
  },
  options: {
    responsive: false, animation: false, devicePixelRatio: 1, events: [],
    layout: { padding: { left: 0, right: 29, top: 0.7, bottom: 0 } },
    scales: {
      x: xScale(true, 69.3),
      y: yScale(0, 3.5, 1, rmseTickLabels, 'DCB RMSE (tecu)', 24, 7)
    },
    plugins: {
      legend: { display: false },
      tooltip: { enabled: false },
      frameTicks: { xMinor: 0.25, xMajor: 0.5, yMinor: 0.2, yMajor: 1, label: 'b', labelDx: 21, labelDy: 41 },
      panelLegend: { show: false }
    }
  },
  plugins: [frameTicks, panelLegend]
});
</script>
</body></html>
